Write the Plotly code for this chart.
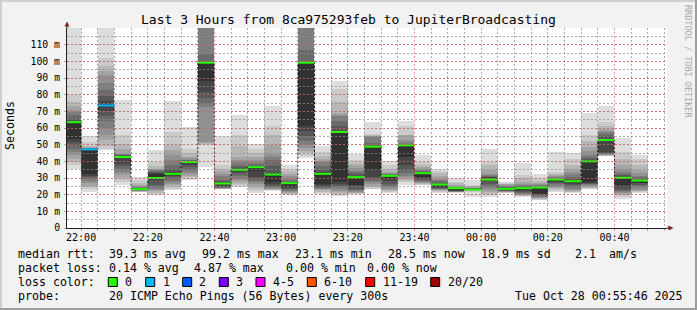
import plotly.graph_objects as go
from datetime import datetime, timedelta

# ---------------- data ----------------
bar_start = [
    "2025-10-27 21:55", "2025-10-27 22:00", "2025-10-27 22:05", "2025-10-27 22:10",
    "2025-10-27 22:15", "2025-10-27 22:20", "2025-10-27 22:25", "2025-10-27 22:30",
    "2025-10-27 22:35", "2025-10-27 22:40", "2025-10-27 22:45", "2025-10-27 22:50",
    "2025-10-27 22:55", "2025-10-27 23:00", "2025-10-27 23:05", "2025-10-27 23:10",
    "2025-10-27 23:15", "2025-10-27 23:20", "2025-10-27 23:25", "2025-10-27 23:30",
    "2025-10-27 23:35", "2025-10-27 23:40", "2025-10-27 23:45", "2025-10-27 23:50",
    "2025-10-27 23:55", "2025-10-28 00:00", "2025-10-28 00:05", "2025-10-28 00:10",
    "2025-10-28 00:15", "2025-10-28 00:20", "2025-10-28 00:25", "2025-10-28 00:30",
    "2025-10-28 00:35", "2025-10-28 00:40", "2025-10-28 00:45",
]

median_ms = [63.5, 47.2, 73.5, 42.6, 23.3, 30.0, 32.5, 39.6, 99.2, 26.7,
             34.9, 36.5, 32.1, 26.9, 99.2, 32.5, 57.6, 30.5, 48.8, 31.3,
             49.6, 32.9, 26.1, 23.9, 23.1, 29.1, 23.5, 23.9, 24.3, 29.1,
             28.1, 40.0, 52.8, 30.1, 28.5]

lost_pings = [0, 1, 1, 0, 0, 0, 0, 0, 0, 0,
              0, 0, 0, 0, 0, 0, 0, 0, 0, 0,
              0, 0, 0, 0, 0, 0, 0, 0, 0, 0,
              0, 0, 0, 0, 0]

# 20 sorted ping round-trip times (ms) per 5-minute step
pings = [
    [35.7, 38, 39.5, 41.6, 44, 45.6, 47.5, 49.6, 51.5, 53.6, 63.8, 64.5, 65.5, 68, 69.5, 71, 73, 75.5, 80, 125],
    [21.7, 23.7, 24.5, 25.5, 27, 28.5, 29.7, 30.5, 31.5, 32.7, 47.2, 47.4, 47.6, 47.8, 48, 48.3, 48.6, 49, 51.6, 55],
    [46.6, 47.5, 49.5, 53, 56, 60, 64.5, 67, 70, 73, 74, 76, 79, 83, 87, 92, 94, 97, 102, 125],
    [25.7, 27.5, 29.7, 30.5, 32.5, 33.6, 35.5, 37, 38.6, 42, 43, 43.3, 43.6, 44, 44.3, 44.6, 47.6, 50.6, 55.6, 77],
    [21.7, 21.8, 21.9, 22, 22.2, 22.4, 22.6, 22.8, 23, 23.2, 23.4, 23.6, 23.8, 24, 24.5, 25, 25.7, 27, 28.7, 30.7],
    [20, 20.5, 21, 22, 23, 23.7, 24.5, 25.7, 29, 30, 32.7, 33.2, 33.7, 34.2, 34.7, 35.2, 35.7, 37.5, 39.6, 47],
    [22.7, 23.5, 24.5, 25.7, 26.5, 27.5, 28.7, 30.5, 31.5, 32.3, 32.8, 33.5, 35.5, 37.6, 41, 43.6, 47, 49.6, 57.6, 76.5],
    [28.7, 29.7, 30.5, 31.5, 32.7, 33.5, 35, 36.7, 38, 39.4, 39.8, 40, 40.3, 40.6, 41, 41.8, 42.6, 45, 47.6, 60.5],
    [36.6, 49.6, 50.5, 51, 51.6, 72.5, 74.5, 78, 81.5, 88.4, 99.6, 99.7, 99.8, 104.4, 125, 128, 131, 134, 137, 140],
    [23.3, 23.4, 23.6, 23.7, 23.8, 24, 24.3, 24.7, 25.5, 26.5, 26.9, 27.3, 28, 28.7, 31, 32.7, 34, 35.7, 37.6, 55],
    [24.7, 25.5, 26.5, 27.5, 28.7, 29.5, 31, 32.7, 33.5, 34.6, 35.1, 35.7, 36.8, 38, 39.6, 41, 42.6, 49, 55.6, 68],
    [21.1, 22.5, 23.7, 25, 26.5, 27.7, 28.5, 29.5, 30.7, 34, 36.7, 37, 37.5, 38.5, 39.6, 41, 42.6, 45, 47.6, 50.6],
    [22.3, 22.6, 22.9, 23.3, 23.7, 24.2, 24.7, 25.5, 26.5, 27.7, 32.3, 33, 37, 40.6, 42.5, 44.6, 50, 55.6, 61.5, 73.5],
    [19.7, 20.2, 20.7, 21.2, 21.7, 22.2, 22.7, 23.4, 24, 24.7, 27, 27.3, 27.7, 28.5, 29.7, 31, 32.7, 34, 35.7, 38],
    [42, 43.5, 45, 46, 48, 50, 52, 55, 58, 61.5, 99.6, 99.7, 99.8, 107, 125, 128, 131, 134, 137, 140],
    [20.7, 21.2, 21.7, 22.7, 23.2, 23.7, 24.2, 24.7, 25.5, 26.7, 32.7, 33.7, 35, 37, 39.6, 40.5, 41.6, 43.5, 45.6, 49.2],
    [19.3, 20, 20.7, 21.7, 22.5, 23.5, 24.7, 25.5, 26.5, 27.7, 57.8, 58.5, 61, 64.5, 67.5, 68, 69, 75.5, 83.5, 88.4],
    [20.3, 20.6, 21, 21.3, 21.7, 22.4, 23, 23.7, 25, 26.1, 30.8, 31.3, 32.5, 33.7, 34.5, 36, 37.6, 39, 40.6, 44.2],
    [23.3, 23.7, 24.5, 25.5, 26.5, 27.7, 28.5, 29.5, 30.7, 34.7, 49.1, 49.5, 50, 51, 54.5, 55, 55.5, 56, 56.6, 63.5],
    [21.1, 21.7, 22.3, 23, 23.7, 24.5, 25.5, 26.7, 28, 29.3, 31.5, 31.7, 31.9, 32.2, 32.5, 33, 33.7, 35.5, 37.6, 40],
    [26.1, 27.5, 28.5, 29.5, 30.7, 31.5, 33, 34.7, 38, 42.6, 49.9, 50, 50.3, 50.6, 51.5, 53, 55.6, 56, 61.5, 64.5],
    [25.7, 26, 26.4, 26.8, 27.2, 27.7, 28.3, 28.9, 29.7, 30.7, 33.1, 33.4, 33.7, 34.5, 35, 35.7, 36.7, 38, 39.6, 43.6],
    [21.1, 21.6, 22.2, 22.7, 23.1, 23.4, 23.7, 24, 24.3, 24.7, 26.3, 26.7, 27.2, 28, 28.8, 29.7, 31.5, 33, 34.5, 35.7],
    [21.3, 21.4, 21.5, 21.6, 21.7, 21.9, 22, 22.2, 22.4, 22.7, 24, 24.1, 24.2, 24.3, 24.5, 24.7, 25.8, 26.8, 27.7, 30],
    [18.7, 21.7, 22, 22.3, 22.7, 22.8, 22.9, 23, 23.1, 23.2, 23.4, 23.5, 23.6, 23.7, 23.9, 24.1, 24.6, 25.2, 25.7, 28.7],
    [18.7, 19.7, 20.5, 21.5, 22.7, 24, 25.3, 26.7, 28, 29, 30.3, 30.5, 30.7, 31.3, 32, 32.7, 35, 37.6, 39.6, 47.6],
    [21.1, 21.3, 21.5, 21.7, 21.9, 22.1, 22.3, 22.5, 22.7, 22.9, 23.7, 24.1, 24.5, 24.9, 25.3, 25.7, 26.2, 26.7, 27.2, 27.7],
    [18.7, 19, 19.4, 19.8, 20.2, 20.7, 21.2, 21.7, 22.2, 22.7, 24.2, 24.5, 24.8, 25.2, 25.7, 26.7, 27.7, 30, 31.7, 39.2],
    [16.7, 17.1, 17.5, 17.9, 18.3, 18.7, 19.4, 19.8, 20.2, 20.7, 24.4, 24.6, 24.9, 25.2, 25.7, 26.5, 27.3, 28.1, 30, 32.3],
    [21.7, 22.5, 23.3, 24, 24.7, 25.5, 26.3, 27, 27.7, 28.5, 29.2, 29.3, 29.5, 29.7, 30.5, 31, 31.7, 32.7, 33.7, 45.6],
    [21.3, 21.6, 21.9, 22.3, 22.7, 23.7, 24.7, 25.7, 26.7, 27.7, 28.3, 28.7, 29.7, 30.7, 32.2, 33.7, 35.5, 38, 41.6, 45],
    [23.3, 23.7, 24.2, 24.7, 25.2, 25.7, 26.2, 26.7, 27.2, 27.7, 40.2, 40.6, 41.5, 42.5, 43.6, 46, 48.6, 52, 55.6, 68.9],
    [43, 43.3, 43.5, 43.7, 44, 44.3, 44.6, 45, 45.6, 52.5, 53.2, 53.6, 55, 56.6, 57.5, 58.5, 59.6, 61.5, 63.5, 73.5],
    [17.7, 18.7, 19.7, 20.7, 21.2, 21.7, 22.2, 22.7, 24.2, 25.7, 30.5, 30.9, 31.7, 32.7, 33.5, 35.5, 37.6, 41.5, 45.6, 54],
    [21.3, 21.6, 22, 22.3, 22.7, 24, 25, 26.1, 26.8, 27.5, 28.5, 28.7, 29.7, 30.7, 31.5, 33, 34.7, 38, 41.6, 43.6],
]

y_tick_vals = [0, 10, 20, 30, 40, 50, 60, 70, 80, 90, 100, 110]
y_tick_text = ["0", "10 m", "20 m", "30 m", "40 m", "50 m", "60 m", "70 m",
               "80 m", "90 m", "100 m", "110 m"]

loss_legend = [("0", "#26ff00"), ("1", "#00b8ff"), ("2", "#0059ff"), ("3", "#7e00ff"),
               ("4-5", "#ff00ff"), ("6-10", "#ff5500"), ("11-19", "#ff0000"),
               ("20/20", "#a00000")]
loss_color = {0: "#26ff00", 1: "#00b8ff", 2: "#0059ff", 3: "#7e00ff"}

stats_median = ["39.3 ms avg", "99.2 ms max", "23.1 ms min", "28.5 ms now", "18.9 ms sd", "2.1", "am/s"]
stats_loss = ["0.14 % avg", "4.87 % max", "0.00 % min", "0.00 % now"]

X_START = "2025-10-27 21:55:46"
X_END = "2025-10-28 00:55:46"
STEP_MS = 300000

# ---------------- styling ----------------
W, H = 697, 310
L, R, T, B = 67, 667, 28, 228
FONT = "DejaVu Sans Mono"
BG = "#f2f2f2"
GRID = "rgba(143,143,143,0.75)"
MGRID = "rgba(222,79,79,0.6)"
DASH = "2px,2px"
ARROW = "#801f1f"
AXIS = "#1f1f1f"


def px(x):
    return (x - L) / (R - L)


def py(y):
    return (B - y) / (B - T)


fig = go.Figure()

# smoke (nested ping ranges)
for k in range(10):
    ibot = k + 1
    g = int(190 / 10 * (10 - ibot)) + 50
    lo = [row[k] for row in pings]
    hi = [row[19 - k] for row in pings]
    fig.add_trace(go.Bar(
        x=bar_start, base=lo, y=[h - l for h, l in zip(hi, lo)],
        width=STEP_MS, offset=0,
        marker=dict(color=f"rgb({g},{g},{g})", line=dict(width=0)),
        showlegend=False, hoverinfo="skip",
    ))

# step connector of the medians
bar_end = [(datetime.fromisoformat(s) + timedelta(minutes=5)).strftime("%Y-%m-%d %H:%M")
           for s in bar_start]
fig.add_trace(go.Scatter(
    x=bar_start + [bar_end[-1]], y=median_ms + [median_ms[-1]], mode="lines",
    line=dict(shape="hv", color="#000000", width=1, dash="2px,2px"),
    showlegend=False, hoverinfo="skip",
))

# colored median segments by loss
for loss, col in loss_color.items():
    xs, ys = [], []
    for s, e, m, lp in zip(bar_start, bar_end, median_ms, lost_pings):
        if lp == loss:
            xs += [s, e, None]
            ys += [m, m, None]
    if xs:
        fig.add_trace(go.Scatter(x=xs, y=ys, mode="lines",
                                 line=dict(color=col, width=2),
                                 showlegend=False, hoverinfo="skip"))

# empty trace so the grid subplot (drawn above the smoke) exists
fig.add_trace(go.Scatter(x=[], y=[], xaxis="x2", yaxis="y2", showlegend=False))

fig.update_layout(
    width=W, height=H,
    margin=dict(l=L, r=W - R, t=T, b=H - B, pad=0),
    paper_bgcolor=BG, plot_bgcolor="rgba(0,0,0,0)",
    barmode="overlay", bargap=0,
    showlegend=False,
    font=dict(family=FONT, color="#000000"),
    xaxis=dict(
        type="date", range=[X_START, X_END], domain=[0, 1], anchor="y",
        showgrid=False, zeroline=False,
        showline=True, linecolor=AXIS, linewidth=1,
        tick0="2025-10-27 22:00:00", dtick=1200000, tickformat="%H:%M",
        ticks="outside", ticklen=2, tickcolor=MGRID, ticklabelstandoff=-2,
        tickfont=dict(size=10, family=FONT, color="#000000"),
        minor=dict(dtick=STEP_MS, tick0="2025-10-27 22:00:00", ticks="outside",
                   ticklen=2, tickcolor=GRID, showgrid=False),
        fixedrange=True,
    ),
    yaxis=dict(
        range=[0, 120], domain=[0, 1], anchor="x",
        showgrid=False, zeroline=False,
        showline=True, linecolor=AXIS, linewidth=1,
        tickmode="array", tickvals=y_tick_vals, ticktext=y_tick_text,
        ticks="outside", ticklen=2, tickcolor=GRID, ticklabelstandoff=2,
        tickfont=dict(size=9.8, family=FONT, color="#000000"),
        fixedrange=True,
    ),
    xaxis2=dict(
        type="date", range=[X_START, X_END], domain=[0, 1], anchor="y2",
        showticklabels=False, ticks="", showline=False, zeroline=False,
        tick0="2025-10-27 22:00:00", dtick=1200000,
        showgrid=True, gridcolor=MGRID, gridwidth=1, griddash=DASH,
        minor=dict(dtick=STEP_MS, tick0="2025-10-27 22:00:00", showgrid=True,
                   gridcolor=GRID, gridwidth=1, griddash=DASH),
        fixedrange=True,
    ),
    yaxis2=dict(
        range=[0, 120], domain=[0, 1], anchor="x2",
        showticklabels=False, ticks="", showline=False, zeroline=False,
        tickmode="array", tickvals=y_tick_vals[1:],
        showgrid=True, gridcolor=MGRID, gridwidth=1, griddash=DASH,
        minor=dict(dtick=5, tick0=5, showgrid=True, gridcolor=GRID,
                   gridwidth=1, griddash=DASH),
        fixedrange=True,
    ),
)

shapes = []
# white canvas under the traces
shapes.append(dict(type="rect", xref="paper", yref="paper", x0=0, x1=1, y0=0, y1=1,
                   fillcolor="#ffffff", line=dict(width=0), layer="below"))
# 3D frame
shapes.append(dict(type="rect", xref="paper", yref="paper", x0=px(0), x1=px(W), y0=py(0), y1=py(2),
                   fillcolor="#cfcfcf", line=dict(width=0), layer="above"))
shapes.append(dict(type="rect", xref="paper", yref="paper", x0=px(0), x1=px(2), y0=py(0), y1=py(H),
                   fillcolor="#cfcfcf", line=dict(width=0), layer="above"))
shapes.append(dict(type="rect", xref="paper", yref="paper", x0=px(W - 2), x1=px(W), y0=py(0), y1=py(H),
                   fillcolor="#9e9e9e", line=dict(width=0), layer="above"))
shapes.append(dict(type="rect", xref="paper", yref="paper", x0=px(0), x1=px(W), y0=py(H - 2), y1=py(H),
                   fillcolor="#9e9e9e", line=dict(width=0), layer="above"))
# axis arrows
shapes.append(dict(type="path", xref="paper", yref="paper",
                   path=f"M {px(64.5)} {py(26.5)} L {px(69.5)} {py(26.5)} L {px(67)} {py(21.5)} Z",
                   fillcolor=ARROW, line=dict(width=0), layer="above"))
shapes.append(dict(type="path", xref="paper", yref="paper",
                   path=f"M {px(668.5)} {py(225.5)} L {px(668.5)} {py(230.5)} L {px(673.5)} {py(228)} Z",
                   fillcolor=ARROW, line=dict(width=0), layer="above"))
shapes.append(dict(type="line", xref="paper", yref="paper", x0=px(667), x1=px(669), y0=py(228), y1=py(228),
                   line=dict(color=AXIS, width=1), layer="above"))
shapes.append(dict(type="line", xref="paper", yref="paper", x0=px(67), x1=px(67), y0=py(28), y1=py(26),
                   line=dict(color=AXIS, width=1), layer="above"))

# loss colour swatches
box_x = [108.3, 145.7, 182.7, 219.3, 256, 307.3, 365.7, 430.7]
for bx, (_, col) in zip(box_x, loss_legend):
    shapes.append(dict(type="rect", xref="paper", yref="paper",
                       x0=px(bx), x1=px(bx + 9), y0=py(286.5), y1=py(277.5),
                       fillcolor=col, line=dict(color="#000000", width=1), layer="above"))

annotations = []


def txt(x, y, s, size=11.6, anchor="left", color="#000000", angle=0):
    annotations.append(dict(xref="paper", yref="paper", x=px(x), y=py(y), text=s,
                            showarrow=False, xanchor=anchor, yanchor="middle",
                            textangle=angle,
                            font=dict(family=FONT, size=size, color=color)))


txt(348.5, 19, "Last 3 Hours from 8ca975293feb to JupiterBroadcasting", size=13, anchor="center")
txt(10, 126, "Seconds", size=11.6, anchor="center", angle=-90)
txt(688, 61, "RRDTOOL / TOBI OETIKER", size=8.5, anchor="center", color="#a8a8a8", angle=90)

LY = [254.3, 268.3, 281.8, 296]
txt(16, LY[0], "median rtt:")
for x, s in zip([107.3, 200, 293.3, 386, 479.3, 573.3, 606.7], stats_median):
    txt(x, LY[0], s)
txt(16, LY[1], "packet loss:")
for x, s in zip([107.3, 191.7, 284, 365], stats_loss):
    txt(x, LY[1], s)
txt(16, LY[2], "loss color:")
for x, (lab, _) in zip([123.3, 160.7, 197.3, 234, 270.7, 322, 380.7, 446], loss_legend):
    txt(x, LY[2], lab)
txt(16, LY[3], "probe:")
txt(107.3, LY[3], "20 ICMP Echo Pings (56 Bytes) every 300s")
txt(512.7, LY[3], "Tue Oct 28 00:55:46 2025")

fig.update_layout(shapes=shapes, annotations=annotations)

fig.write_html("out.html")
